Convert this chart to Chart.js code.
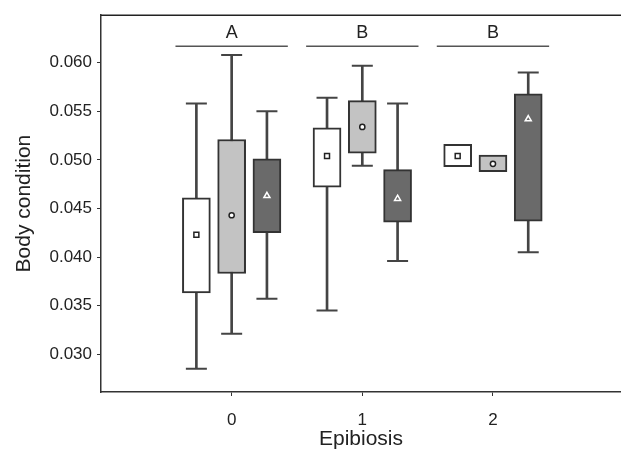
<!DOCTYPE html>
<html>
<head>
<meta charset="utf-8">
<script src="https://cdn.jsdelivr.net/npm/chart.js@4/dist/chart.umd.min.js"></script>
<style>
  html, body { margin: 0; padding: 0; background: #fff; }
  #wrap { width: 621px; height: 452px; }
</style>
</head>
<body>
<div id="wrap"><canvas id="boxChart"></canvas></div>
<script>
// Epibiosis groups on the x axis
const groups = [0, 1, 2];
const groupLetters = ['A', 'B', 'B'];
const yTicks = [0.030, 0.035, 0.040, 0.045, 0.050, 0.055, 0.060];

// white boxes
const whiteHigh = [0.0558, 0.0564, null];
const whiteQ3   = [0.0461, 0.0533, 0.0516];
const whiteQ1   = [0.0363, 0.0472, 0.0493];
const whiteLow  = [0.0285, 0.0345, null];
const whiteMean = [0.0423, 0.0504, 0.0504];

// light grey boxes
const lightHigh = [0.0608, 0.0597, null];
const lightQ3   = [0.0521, 0.0561, 0.0505];
const lightQ1   = [0.0383, 0.0507, 0.0488];
const lightLow  = [0.0321, 0.0494, null];
const lightMean = [0.0443, 0.0534, 0.0496];

// dark grey boxes
const darkHigh = [0.0550, 0.0558, 0.0590];
const darkQ3   = [0.0501, 0.0490, 0.0568];
const darkQ1   = [0.0425, 0.0436, 0.0437];
const darkLow  = [0.0357, 0.0396, 0.0405];
const darkMean = [0.0463, 0.0460, 0.0542];

const FONT = "'Liberation Sans', Arial, sans-serif";
const EDGE = '#333333';
const WHISK = '#444444';

const series = [
    { off: -0.27, fill: '#ffffff', high: whiteHigh, q3: whiteQ3, q1: whiteQ1, low: whiteLow, mean: whiteMean,
      style: 'rect', r: 3.5, mFill: '#ffffff', mEdge: '#222' },
    { off: 0, fill: '#c3c3c3', high: lightHigh, q3: lightQ3, q1: lightQ1, low: lightLow, mean: lightMean,
      style: 'circle', r: 2.6, mFill: '#ffffff', mEdge: '#222' },
    { off: 0.27, fill: '#6a6a6a', high: darkHigh, q3: darkQ3, q1: darkQ1, low: darkLow, mean: darkMean,
      style: 'triangle', r: 3.5, mFill: '#6a6a6a', mEdge: '#ffffff' }
];

function buildDatasets() {
    const sets = [];
    series.forEach(s => {
        // whisker stems
        sets.push({
            type: 'bar', order: 5, grouped: false, barThickness: 2,
            backgroundColor: WHISK, borderWidth: 0,
            data: groups.map((g, i) => s.high[i] == null ? null : { x: g + s.off, y: [s.low[i], s.high[i]] }).filter(d => d)
        });
        // whisker caps
        const caps = [];
        groups.forEach((g, i) => {
            if (s.high[i] != null) caps.push({ x: g + s.off, y: s.high[i] });
            if (s.low[i] != null) caps.push({ x: g + s.off, y: s.low[i] });
        });
        sets.push({
            type: 'scatter', order: 4, data: caps,
            pointStyle: 'line', pointRadius: 10.5, borderColor: WHISK, borderWidth: 2
        });
        // boxes
        sets.push({
            type: 'bar', order: 3, grouped: false, barThickness: 28,
            backgroundColor: s.fill, borderColor: EDGE, borderWidth: 2, borderSkipped: false,
            data: groups.map((g, i) => ({ x: g + s.off, y: [s.q1[i], s.q3[i]] }))
        });
        // means
        sets.push({
            type: 'scatter', order: 1,
            data: groups.map((g, i) => ({ x: g + s.off, y: s.mean[i] })),
            pointStyle: s.style, pointRadius: s.r, backgroundColor: s.mFill,
            borderColor: s.mEdge, borderWidth: 1.5
        });
    });
    return sets;
}

// letters above the groups + top frame line
const lettersPlugin = {
    id: 'letters',
    afterDraw(chart) {
        const { ctx, chartArea, scales: { x, y } } = chart;
        ctx.save();
        ctx.strokeStyle = '#222';
        ctx.lineWidth = 1.5;
        ctx.beginPath();
        ctx.moveTo(chartArea.left, chartArea.top);
        ctx.lineTo(chart.width, chartArea.top);
        ctx.stroke();

        ctx.strokeStyle = '#555';
        ctx.lineWidth = 1.5;
        ctx.fillStyle = '#222';
        ctx.font = '18px ' + FONT;
        ctx.textAlign = 'center';
        ctx.textBaseline = 'middle';
        groups.forEach((g, i) => {
            const ly = y.getPixelForValue(0.0617);
            ctx.beginPath();
            ctx.moveTo(x.getPixelForValue(g - 0.43), ly);
            ctx.lineTo(x.getPixelForValue(g + 0.43), ly);
            ctx.stroke();
            ctx.fillText(groupLetters[i], x.getPixelForValue(g), y.getPixelForValue(0.0631));
        });
        ctx.restore();
    }
};

new Chart(document.getElementById('boxChart'), {
    type: 'bar',
    data: { datasets: buildDatasets() },
    options: {
        responsive: true,
        maintainAspectRatio: false,
        animation: false,
        events: [],
        layout: { autoPadding: false, padding: { top: 13, right: 0, left: 0, bottom: 0 } },
        plugins: { legend: { display: false }, tooltip: { enabled: false } },
        scales: {
            x: {
                type: 'linear', min: -1, max: 2.98, offset: false,
                afterBuildTicks: s => { s.ticks = groups.map(v => ({ value: v })); },
                afterFit: s => { s.height = 60; },
                grid: { offset: false, drawOnChartArea: false, drawTicks: true, tickLength: 4, color: '#333' },
                border: { display: true, color: '#333', width: 1.5 },
                ticks: { color: '#222', padding: 14, font: { family: FONT, size: 17 }, callback: v => String(v) },
                title: { display: true, text: 'Epibiosis', color: '#222', padding: { top: 0, bottom: 0 },
                         font: { family: FONT, size: 21 } }
            },
            y: {
                type: 'linear', min: 0.0261, max: 0.0649,
                afterBuildTicks: s => { s.ticks = yTicks.map(v => ({ value: v })); },
                afterFit: s => { s.width = 101; },
                grid: { drawOnChartArea: false, drawTicks: true, tickLength: 4, color: '#333' },
                border: { display: true, color: '#333', width: 1.5 },
                ticks: { color: '#222', padding: 5, font: { family: FONT, size: 17 }, callback: v => v.toFixed(3) },
                title: { display: true, text: 'Body condition', color: '#222', padding: { top: 12, bottom: 0 },
                         font: { family: FONT, size: 21 } }
            }
        }
    },
    plugins: [lettersPlugin]
});
</script>
</body>
</html>
